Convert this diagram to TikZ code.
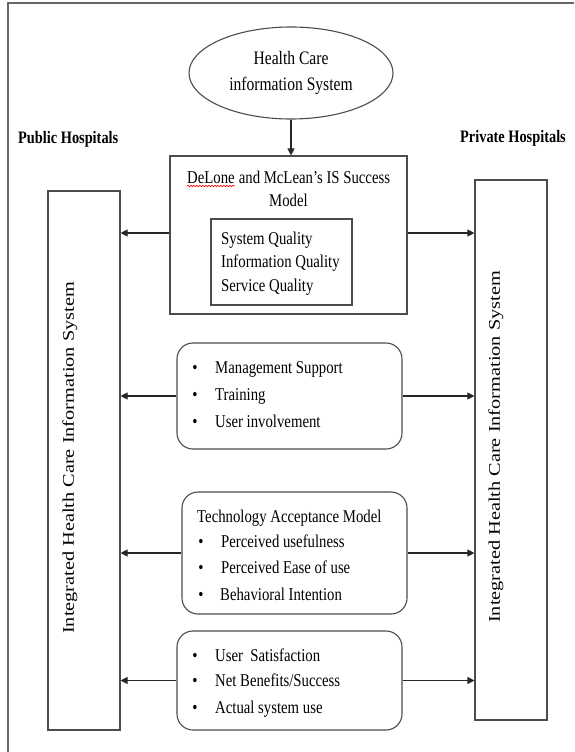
\documentclass[tikz,border=0pt]{standalone}
\usepackage{fontspec}
\setmainfont{Liberation Serif}[FakeStretch=0.82]
\newfontfamily\rotfont{Liberation Serif}
\usetikzlibrary{arrows.meta,shapes.geometric,decorations.pathmorphing}
\begin{document}
\begin{tikzpicture}[x=1pt,y=-1pt,
  frame/.style={draw=black!60, line width=1.2pt},
  box/.style={draw=black!70, line width=1.1pt, inner sep=0pt, fill=none},
  rbox/.style={box, rounded corners=16pt},
  arr/.style={draw=black!85, line width=1.1pt, -{Triangle[length=7pt,width=7pt]}},
  txt/.style={inner sep=0pt, anchor=base west, font=\fontsize{18}{22}\selectfont},
  ctxt/.style={inner sep=0pt, anchor=base, font=\fontsize{18}{22}\selectfont},
  etxt/.style={inner sep=0pt, anchor=base, font=\fontsize{19}{23}\selectfont},
  htxt/.style={inner sep=0pt, anchor=base west, font=\fontsize{17.5}{21}\selectfont\bfseries},
  bul/.style={inner sep=0pt, anchor=base, font=\fontsize{18}{22}\selectfont},
  rot/.style={inner sep=0pt, rotate=90, font=\rotfont\fontsize{20.3}{24}\selectfont},
]
\useasboundingbox (0,0) rectangle (574,752);
% outer frame (top and left edges only)
\draw[frame] (574,3) -- (8,3) -- (8,752);

% ellipse
\node[ellipse, draw=black!70, line width=1.1pt, minimum width=204pt, minimum height=92pt, inner sep=0pt] (el) at (291,73) {};
\node[etxt] (el1) at (291,65) {Health Care};
\node[etxt] (el2) at (291,90) {information System};

% headings
\node[htxt] (pub) at (18,143) {Public Hospitals};
\node[htxt] (pri) at (460,142) {Private Hospitals};

% side boxes
\node[box, minimum width=72pt, minimum height=539pt] (lb) at (84,460.5) {};
\node[box, minimum width=72pt, minimum height=540pt] (rb) at (511,450) {};
\node[rot] (lbt) at (70,458) {\scalebox{1}[0.8]{Integrated Health Care Information System}};
\node[rot] (rbt) at (496,447) {\scalebox{1}[0.8]{Integrated Health Care Information System}};

% DeLone and McLean box
\node[box, minimum width=237pt, minimum height=158pt] (dm) at (288.5,235) {};
\node[txt] (dl) at (187,183) {DeLone};
\node[txt] (dl2) at (dl.base east) {\ and McLean’s IS Success};
\draw[red, line width=0.6pt, decorate, decoration={snake, amplitude=0.8pt, segment length=3pt}]
  ([yshift=-3pt]dl.base west) -- ([yshift=-3pt]dl.base east);
\node[ctxt] (dl3) at (288.5,206) {Model};
\node[box, minimum width=141pt, minimum height=86pt] (ib) at (281.5,262) {};
\node[txt] (q1) at (221,244) {System Quality};
\node[txt] (q2) at (221,267) {Information Quality};
\node[txt] (q3) at (221,291) {Service Quality};

% management box
\node[rbox, minimum width=225pt, minimum height=106pt] (mg) at (289.5,396) {};
\node[bul] (mb1) at (195,373) {•};
\node[bul] (mb2) at (195,400) {•};
\node[bul] (mb3) at (195,427) {•};
\node[txt] (m1) at (215,373) {Management Support};
\node[txt] (m2) at (215,400) {Training};
\node[txt] (m3) at (215,427) {User involvement};

% TAM box
\node[rbox, minimum width=225pt, minimum height=122pt] (tam) at (294.5,553) {};
\node[txt] (t0) at (197,522) {Technology Acceptance Model};
\node[bul] (tb1) at (201,547) {•};
\node[bul] (tb2) at (201,573) {•};
\node[bul] (tb3) at (201,600) {•};
\node[txt] (t1) at (221,547) {Perceived usefulness};
\node[txt] (t2) at (221,573) {Perceived Ease of use};
\node[txt] (t3) at (220,600) {Behavioral Intention};

% outcome box
\node[rbox, minimum width=225pt, minimum height=99pt] (oc) at (289.5,680.5) {};
\node[bul] (ob1) at (195,661) {•};
\node[bul] (ob2) at (195,686) {•};
\node[bul] (ob3) at (195,713) {•};
\node[txt] (o1) at (215,661) {User\ \ Satisfaction};
\node[txt] (o2) at (215,686) {Net Benefits/Success};
\node[txt] (o3) at (215,713) {Actual system use};

% connectors
\draw[arr] (el.south) -- (el.south |- dm.north);
\draw[arr] ([yshift=2pt]dm.west) -- ([yshift=2pt]dm.west -| lb.east);
\draw[arr] ([yshift=2pt]dm.east) -- ([yshift=2pt]dm.east -| rb.west);
\draw[arr] (mg.west) -- (mg.west -| lb.east);
\draw[arr] (mg.east) -- (mg.east -| rb.west);
\draw[arr] (tam.west) -- (tam.west -| lb.east);
\draw[arr] (tam.east) -- (tam.east -| rb.west);
\draw[arr] (oc.west) -- (oc.west -| lb.east);
\draw[arr] (oc.east) -- (oc.east -| rb.west);
\end{tikzpicture}
\end{document}
